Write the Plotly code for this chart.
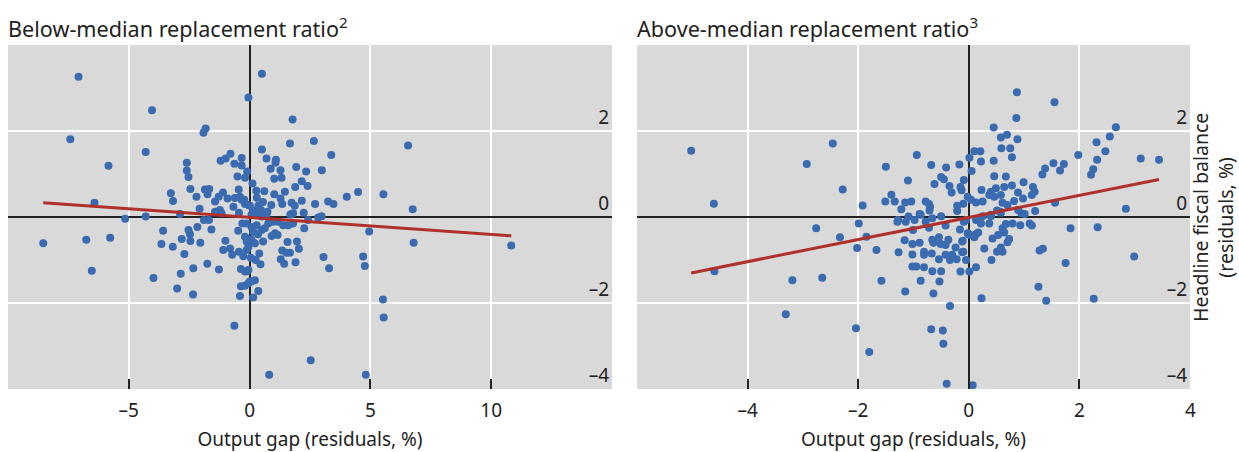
import plotly.graph_objects as go

# ---------------- data ----------------
below_x = [-7.08,-0.05,-4.04,-7.42,-1.82,-1.91,-4.30,-5.84,-2.60,-2.60,-2.53,-1.20,-0.99,-0.79,-0.33,-0.63,-0.33,-0.10,-0.50,-0.19,
           -2.45,-1.85,-1.67,-1.74,-2.20,-3.26,-3.17,-6.42,-1.10,-1.28,-1.43,-0.91,-0.45,-0.61,-0.40,-0.22,-0.05,-0.67,-2.07,-2.88,
           -1.43,-1.23,-1.16,-0.44,-5.15,-4.30,
           -3.58,-3.65,-3.18,-8.54,-6.76,-5.77,-6.53,-2.81,-2.53,-2.47,-2.45,-2.16,-2.04,-2.70,-1.58,-1.89,-1.68,-1.00,-1.09,-0.81,
           -0.72,-0.44,-0.26,-0.47,-0.30,-0.19,-0.12,-1.75,-1.27,-2.33,-2.85,-3.98,-3.00,-2.34,-0.36,-0.12,0.01,-0.36,-0.19,-0.40,-0.63,
           0.51,1.78,1.67,2.66,6.56,0.51,3.38,0.70,1.09,1.07,0.87,1.28,1.93,2.34,2.99,1.02,1.32,2.16,2.40,1.89,0.12,0.28,0.61,1.02,
           1.46,1.28,4.49,4.02,5.54,2.16,3.25,3.47,2.71,1.35,1.74,1.87,0.90,6.75,-0.33,-0.19,0.01,0.36,0.47,0.74,2.24,1.69,1.80,2.98,2.84,
           4.95,6.79,10.83,1.57,1.96,2.04,1.35,1.53,1.67,1.29,1.43,1.90,3.06,3.29,4.70,4.77,5.52,5.55,2.53,0.81,4.81,1.05,1.16,0.91,
           0.56,0.22,0.08,-0.12,-0.12,-0.05,-0.19,0.22,0.08,-0.05,0.36,0.15,
           1.74,2.42,2.26,1.80,1.60,1.39,1.18,0.98,0.77,0.63,0.50,0.29,0.08,-0.12,0.50,0.70,0.29,0.08,
           0.35,0.15,0.40,0.25,0.05,0.45,-0.05,0.30,0.15,0.55]
below_y = [3.26,2.78,2.48,1.81,2.06,1.96,1.51,1.19,1.26,1.08,0.93,1.31,1.36,1.47,1.37,1.24,1.20,1.06,0.94,0.91,
           0.65,0.64,0.65,0.53,0.47,0.55,0.37,0.33,0.57,0.47,0.36,0.43,0.64,0.44,0.47,0.40,0.28,0.24,0.19,0.07,
           0.12,0.16,0.09,0.10,-0.04,0.01,
           -0.32,-0.63,-0.69,-0.61,-0.53,-0.48,-1.25,-0.51,-0.30,-0.40,-0.56,-0.23,-0.60,-0.86,-0.29,-0.07,-0.07,-0.55,-0.77,-0.73,
           -0.88,-0.81,-0.91,-0.32,-0.15,-0.46,-0.57,-1.09,-1.22,-1.19,-1.32,-1.42,-1.66,-1.80,-1.21,-1.26,-1.50,-1.61,-1.60,-1.84,-2.53,
           3.33,2.27,1.71,1.77,1.66,1.57,1.44,1.36,1.33,1.26,1.12,1.09,1.16,1.06,1.09,0.89,0.91,0.83,0.72,0.70,0.78,0.61,0.60,0.53,
           0.59,0.43,0.58,0.47,0.53,0.38,0.36,0.30,0.30,0.30,0.33,0.26,0.28,0.18,0.40,0.30,0.26,0.26,0.16,0.12,0.10,0.06,0.09,0.02,-0.01,
           -0.34,-0.60,-0.66,-0.58,-0.57,-0.74,-0.78,-0.83,-0.83,-0.98,-1.09,-1.05,-0.93,-1.19,-0.92,-1.14,-1.92,-2.34,-3.33,-3.67,-3.67,-0.38,-0.42,-0.44,
           -0.57,-0.61,-0.53,-0.50,-0.77,-1.23,-1.27,-1.47,-1.50,-1.54,-1.72,-1.87,
           0.07,-0.07,-0.26,-0.15,-0.19,-0.19,-0.11,-0.11,-0.15,-0.26,-0.30,-0.19,-0.23,-0.15,0.01,0.05,0.09,0.05,
           -0.40,-0.35,-0.85,-1.00,-0.95,-1.10,-0.70,0.45,0.15,0.35]

above_x = [-5.02,-4.61,-2.46,-2.93,-2.28,-1.92,-1.50,-0.94,-0.68,-0.41,-0.17,0.01,-1.10,-0.50,-0.45,-0.62,-0.35,-0.31,-0.09,-0.13,
           -0.02,-1.40,-1.51,-1.34,-1.15,-1.04,-1.22,-0.78,-0.72,-0.70,-0.71,-0.21,-0.10,-0.21,-0.89,-1.09,-0.66,-0.50,-1.28,
           -4.60,-2.76,-2.33,-1.99,-1.85,-2.02,-1.67,-3.19,-2.65,-1.58,-3.31,-2.04,-1.80,-1.15,-0.64,-0.34,-0.68,-0.47,-0.46,-0.40,
           -0.87,-0.53,-0.66,-0.50,-0.15,0.01,-1.02,-0.95,-0.81,-1.02,-0.81,-0.81,-0.67,-0.54,-1.27,-1.16,-1.02,-0.89,-0.66,-0.64,
           -0.54,-0.51,-0.42,-0.37,-0.24,-0.11,-0.10,-0.42,-0.34,-0.30,-0.22,-0.05,-0.01,-0.16,-0.42,-0.72,-1.01,-1.29,-1.14,-0.98,
           -0.87,-0.78,-0.09,
           0.87,1.55,0.86,2.66,2.55,2.31,2.47,0.45,0.58,0.69,0.88,0.59,0.75,0.78,0.10,0.21,0.22,0.45,1.98,3.11,3.44,1.53,1.72,1.38,
           1.33,1.65,2.32,2.25,2.21,0.05,-0.15,0.46,0.67,0.99,1.16,1.19,1.14,0.23,0.40,0.49,0.64,0.78,0.58,0.46,0.37,0.89,0.04,0.13,
           0.25,0.61,0.70,0.82,0.98,1.56,2.84,0.51,0.58,0.89,0.95,1.01,1.20,0.25,0.40,
           1.84,2.33,2.99,1.75,1.26,0.23,1.40,2.26,0.07,1.28,1.34,0.41,0.28,0.51,0.58,0.61,0.43,0.53,0.64,0.73,0.70,0.67,0.79,0.93,
           1.10,1.14,0.61,0.13,-0.12,-0.12,-0.02,0.02,0.13,0.10,0.17,-0.05,0.13,0.40,0.22,0.37,0.57]
above_y = [1.54,0.31,1.71,1.23,0.64,0.27,1.17,1.44,1.21,1.15,1.22,1.38,0.85,0.93,0.88,0.77,0.72,0.57,0.86,0.62,
           0.47,0.52,0.36,0.36,0.34,0.36,0.18,0.36,0.30,0.24,0.15,0.26,0.31,0.14,0.07,0.01,-0.03,0.02,-0.07,
           -1.26,-0.26,-0.47,-0.15,-0.46,-0.72,-0.77,-1.47,-1.41,-1.48,-2.26,-2.59,-3.14,-1.73,-1.78,-2.07,-2.61,-2.64,-2.95,-3.88,
           -1.48,-1.50,-1.26,-1.26,-1.27,-1.27,-1.15,-1.15,-1.17,-0.87,-0.88,-0.81,-0.85,-0.98,-0.82,-0.54,-0.63,-0.60,-0.53,-0.60,
           -0.47,-0.63,-0.65,-0.53,-0.71,-0.55,-0.81,-0.88,-1.00,-0.88,-0.98,-1.00,-0.40,-0.29,-0.20,-0.25,-0.30,-0.11,-0.11,-0.07,
           0.05,-0.11,-0.11,
           2.90,2.67,2.30,2.09,1.87,1.74,1.53,2.08,1.85,1.91,1.81,1.60,1.60,1.39,1.53,1.53,1.29,1.31,1.44,1.36,1.33,1.25,1.23,1.13,
           0.99,1.08,1.33,1.11,0.98,1.07,0.70,0.95,0.94,0.81,0.70,0.59,0.51,0.63,0.59,0.67,0.70,0.73,0.51,0.47,0.51,0.57,0.40,0.34,
           0.36,0.33,0.28,0.37,0.43,0.33,0.19,0.15,0.10,0.16,0.09,0.07,0.14,0.02,0.02,
           -0.26,-0.24,-0.92,-1.07,-1.62,-1.89,-1.95,-1.90,-3.91,-0.78,-0.74,-1.00,-0.73,-0.81,-0.71,-0.81,-0.50,-0.42,-0.36,-0.51,-0.59,-0.16,-0.15,-0.19,
           -0.15,-0.20,-0.26,-1.17,-0.82,-0.57,-0.38,-0.42,-0.40,-0.47,-0.36,-0.07,-0.07,0.05,-0.15,-0.15,0.12]

# fitted regression lines (slope, intercept)
below_fit = (-0.0396, -0.009)
above_fit = (0.257, -0.01)

x_ticks_below = [-10, -5, 0, 5, 10, 15]
x_text_below = ["", "–5", "0", "5", "10", ""]
x_ticks_above = [-6, -4, -2, 0, 2, 4]
x_text_above = ["", "–4", "–2", "0", "2", "4"]
y_ticks = [-4, -2, 0, 2, 4]
y_text = ["–4", "–2", "0", "2", ""]

title_below = "Below-median replacement ratio<sup>2</sup>"
title_above = "Above-median replacement ratio<sup>3</sup>"
x_title = "Output gap (residuals, %)"
y_title = "Headline fiscal balance<br>(residuals, %)"

# ---------------- styling ----------------
FONT = "Noto Sans"
BLUE = "#3a6bb0"
RED = "#b0302b"
BG = "#d9d9d9"
DARK = "#222222"

W, H = 1239, 452
ML, MR, MT, MB = 8, 49, 45, 63
PW = W - ML - MR
PH = H - MT - MB


def px_x(p):
    return (p - ML) / PW


def px_y(p):
    return (H - MB - p) / PH


fig = go.Figure()

for xs, ys, fit, xa, ya in [(below_x, below_y, below_fit, "x", "y"),
                            (above_x, above_y, above_fit, "x2", "y2")]:
    fig.add_trace(go.Scatter(x=xs, y=ys, mode="markers", xaxis=xa, yaxis=ya,
                             marker=dict(color=BLUE, size=8, line=dict(width=0)),
                             showlegend=False, hoverinfo="skip"))
    lo, hi = min(xs), max(xs)
    m, b = fit
    fig.add_trace(go.Scatter(x=[lo, hi], y=[m * lo + b, m * hi + b], mode="lines",
                             xaxis=xa, yaxis=ya, line=dict(color=RED, width=3),
                             showlegend=False, hoverinfo="skip"))

xcommon = dict(ticks="inside", ticklen=10, tickwidth=1.5, tickcolor=DARK,
               showgrid=True, gridcolor="white", gridwidth=2,
               zeroline=True, zerolinecolor=DARK, zerolinewidth=1.5,
               showline=False, tickfont=dict(size=19, color=DARK, family=FONT),
               ticklabelstandoff=8,
               title=dict(text=x_title, font=dict(size=19, color=DARK, family=FONT), standoff=10),
               fixedrange=True)
ycommon = dict(range=[-4, 4], tickvals=y_ticks, ticktext=y_text, side="right",
               ticklabelposition="inside top", ticks="",
               showgrid=True, gridcolor="white", gridwidth=2,
               zeroline=True, zerolinecolor=DARK, zerolinewidth=1.5,
               showline=False, tickfont=dict(size=19, color=DARK, family=FONT),
               fixedrange=True)

d1 = [0, px_x(612)]
d2 = [px_x(637), 1]

# the end-of-range label "4" on the right panel is placed as an annotation at x=4
edge_label_x = x_ticks_above[-1]
edge_label_text = x_text_above[-1]
x_text_above_axis = x_text_above[:-1] + [""]

fig.update_layout(
    width=W, height=H,
    margin=dict(l=ML, r=MR, t=MT, b=MB, autoexpand=False),
    paper_bgcolor="white", plot_bgcolor=BG,
    font=dict(family=FONT, color=DARK),
    xaxis=dict(domain=d1, range=[-10, 15], tickvals=x_ticks_below, ticktext=x_text_below,
               anchor="y", **xcommon),
    yaxis=dict(domain=[0, 1], anchor="x", **ycommon),
    xaxis2=dict(domain=d2, range=[-6, 4], tickvals=x_ticks_above, ticktext=x_text_above_axis,
                anchor="y2", **xcommon),
    yaxis2=dict(domain=[0, 1], anchor="x2", **ycommon),
    annotations=[
        dict(text=title_below, x=px_x(6), y=px_y(28), xref="paper", yref="paper",
             xanchor="left", yanchor="middle", showarrow=False,
             font=dict(size=21.6, color=DARK, family=FONT)),
        dict(text=title_above, x=px_x(635), y=px_y(28), xref="paper", yref="paper",
             xanchor="left", yanchor="middle", showarrow=False,
             font=dict(size=21.6, color=DARK, family=FONT)),
        dict(text=y_title, x=px_x(1213), y=px_y(218), xref="paper", yref="paper",
             xanchor="center", yanchor="middle", showarrow=False, textangle=-90,
             font=dict(size=19.5, color=DARK, family=FONT)),
        dict(text=edge_label_text, x=edge_label_x, xref="x2", y=px_y(410), yref="paper",
             xanchor="center", yanchor="middle", showarrow=False,
             font=dict(size=19, color=DARK, family=FONT)),
    ],
)

fig.write_html("out.html", config={"displayModeBar": False},
               post_script="document.body.style.margin='0px';")
